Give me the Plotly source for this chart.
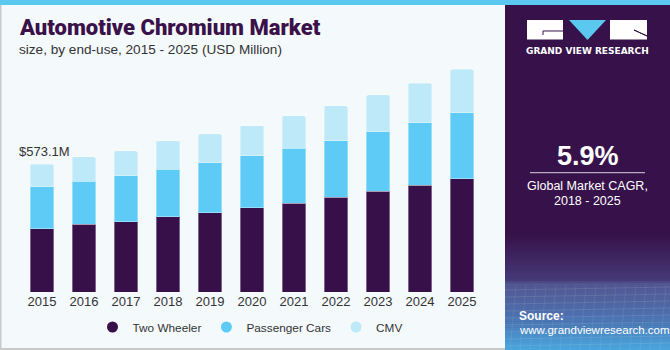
import plotly.graph_objects as go

years = ["2015", "2016", "2017", "2018", "2019", "2020", "2021", "2022", "2023", "2024", "2025"]
two_wheeler = [284, 304, 315, 337, 355, 378, 398, 426, 452, 480, 508]
passenger_cars = [189, 193, 207, 214, 224, 233, 247, 253, 266, 280, 296]
cmv = [100, 109, 111, 127, 130, 135, 145, 156, 166, 177, 195]
series_names = ["Two Wheeler", "Passenger Cars", "CMV"]
series_colors = ["#37104a", "#5ecbf7", "#bde9f9"]
first_label = "$573.1M"
cagr = "5.9%"

W, H = 670, 350
def px(x):
    return x / W
def py(y):
    return 1 - y / H

fig = go.Figure()
for name, vals, col in zip(series_names, [two_wheeler, passenger_cars, cmv], series_colors):
    fig.add_trace(go.Bar(x=years, y=vals, name=name, marker=dict(color=col,
                         line=dict(color="rgba(255,255,255,0.35)", width=1)),
                         showlegend=False, hoverinfo="x+y+name"))
for name, col in zip(series_names, series_colors):
    fig.add_trace(go.Scatter(x=[None], y=[None], mode="markers", name=name,
                             marker=dict(color=col, size=11, symbol="circle"),
                             showlegend=True))

shapes = []
def lerp(c1, c2, t):
    a = [int(c1[i:i+2], 16) for i in (1, 3, 5)]
    b = [int(c2[i:i+2], 16) for i in (1, 3, 5)]
    return "rgb(%d,%d,%d)" % tuple(round(a[k] + (b[k] - a[k]) * t) for k in range(3))

shapes.append(dict(type="rect", xref="paper", yref="paper", x0=px(505), x1=1, y0=py(350), y1=py(0),
                   fillcolor="#37124a", line=dict(width=0), layer="below"))
stops = [(235, "#37124a"), (281, "#463a78"), (283, "#52558f"), (315, "#4d6fae"), (350, "#49a6dd")]
for i in range(len(stops) - 1):
    y0, c0 = stops[i]
    y1, c1 = stops[i + 1]
    n = max(1, (y1 - y0) // 2)
    for k in range(n):
        ya = y0 + (y1 - y0) * k / n
        yb = y0 + (y1 - y0) * (k + 1) / n
        shapes.append(dict(type="rect", xref="paper", yref="paper", x0=px(505), x1=1,
                           y0=py(yb + 0.5), y1=py(ya), fillcolor=lerp(c0, c1, (k + 0.5) / n),
                           line=dict(width=0), layer="below"))
for yy in range(290, 350, 7):
    shapes.append(dict(type="line", xref="paper", yref="paper", x0=px(505), x1=1, y0=py(yy), y1=py(yy - 3),
                       line=dict(color="rgba(255,255,255,0.10)", width=1), layer="below"))
for xx in range(510, 670, 10):
    shapes.append(dict(type="line", xref="paper", yref="paper", x0=px(xx), x1=px(xx + 6), y0=py(350), y1=py(285),
                       line=dict(color="rgba(255,255,255,0.08)", width=1), layer="below"))
shapes.append(dict(type="rect", xref="paper", yref="paper", x0=0, x1=1, y0=py(5), y1=1,
                   fillcolor="#5bc8f0", line=dict(width=0)))
shapes.append(dict(type="rect", xref="paper", yref="paper", x0=0, x1=px(1.5), y0=0, y1=py(5),
                   fillcolor="#c9c9c9", line=dict(width=0)))
shapes.append(dict(type="rect", xref="paper", yref="paper", x0=0, x1=px(505), y0=0, y1=py(348),
                   fillcolor="#c9c9c9", line=dict(width=0)))
shapes.append(dict(type="rect", xref="paper", yref="paper", x0=px(527), x1=px(563), y0=py(39.5), y1=py(20),
                   fillcolor="white", line=dict(width=0)))
shapes.append(dict(type="rect", xref="paper", yref="paper", x0=px(610), x1=px(647), y0=py(39.5), y1=py(20),
                   fillcolor="white", line=dict(width=0)))
shapes.append(dict(type="path", xref="paper", yref="paper",
                   path="M %f %f L %f %f L %f %f Z" % (px(569), py(20), px(606), py(20), px(587.5), py(40)),
                   fillcolor="#5bc8f0", line=dict(width=0)))
shapes.append(dict(type="path", xref="paper", yref="paper",
                   path="M %f %f L %f %f L %f %f" % (px(543), py(35), px(543), py(31), px(563), py(31)),
                   line=dict(color="#37124a", width=1)))
shapes.append(dict(type="path", xref="paper", yref="paper",
                   path="M %f %f L %f %f L %f %f" % (px(634), py(30), px(647), py(36), px(634), py(30)),
                   line=dict(color="#37124a", width=1)))
shapes.append(dict(type="line", xref="paper", yref="paper", x0=px(530), x1=px(645), y0=py(172.7), y1=py(172.7),
                   line=dict(color="rgba(255,255,255,0.8)", width=1)))

txt = "Liberation Sans"
annotations = [
    dict(text="Automotive Chromium Market", x=px(17), y=py(27), xanchor="left", yanchor="middle",
         font=dict(family="Roboto", size=22, color="#3a1149", weight=900)),
    dict(text="size, by end-use, 2015 - 2025 (USD Million)", x=px(17), y=py(49), xanchor="left", yanchor="middle",
         font=dict(family=txt, size=13.6, color="#333333")),
    dict(text=first_label, x=px(17), y=py(151), xanchor="left", yanchor="middle",
         font=dict(family=txt, size=13, color="#333333")),
    dict(text="GRAND VIEW RESEARCH", x=px(587), y=py(51), xanchor="center", yanchor="middle",
         font=dict(family="DejaVu Sans", size=9, color="white", weight="bold")),
    dict(text=cagr, x=px(587.5), y=py(156), xanchor="center", yanchor="middle",
         font=dict(family="Liberation Sans", size=27, color="white", weight="bold")),
    dict(text="Global Market CAGR,", x=px(587.5), y=py(186), xanchor="center", yanchor="middle",
         font=dict(family=txt, size=12.5, color="white")),
    dict(text="2018 - 2025", x=px(587.5), y=py(200.5), xanchor="center", yanchor="middle",
         font=dict(family=txt, size=12.5, color="white")),
    dict(text="<b>Source:</b>", x=px(517), y=py(316), xanchor="left", yanchor="middle",
         font=dict(family=txt, size=12, color="white")),
    dict(text="www.grandviewresearch.com", x=px(517), y=py(330), xanchor="left", yanchor="middle",
         font=dict(family=txt, size=11.5, color="white")),
]
for a in annotations:
    a.update(xref="paper", yref="paper", showarrow=False)

fig.update_layout(
    width=W, height=H, autosize=False,
    margin=dict(l=0, r=0, t=0, b=0),
    paper_bgcolor="#f4f9fc", plot_bgcolor="#f4f9fc",
    barmode="stack", bargap=0.43, barcornerradius=2,
    xaxis=dict(domain=[px(21), px(483)], type="category", showline=False, showgrid=False, ticks="",
               tickfont=dict(family=txt, size=13, color="#333333"), fixedrange=True),
    yaxis=dict(domain=[py(292), py(62)], range=[0, 1032], visible=False, fixedrange=True),
    legend=dict(orientation="h", x=px(250), y=py(327), xanchor="center", yanchor="middle",
                font=dict(family=txt, size=11.8, color="#333333"), bgcolor="rgba(0,0,0,0)",
                itemwidth=30, tracegroupgap=0, traceorder="normal"),
    shapes=shapes, annotations=annotations,
    showlegend=True,
)
fig.write_html("out.html")
